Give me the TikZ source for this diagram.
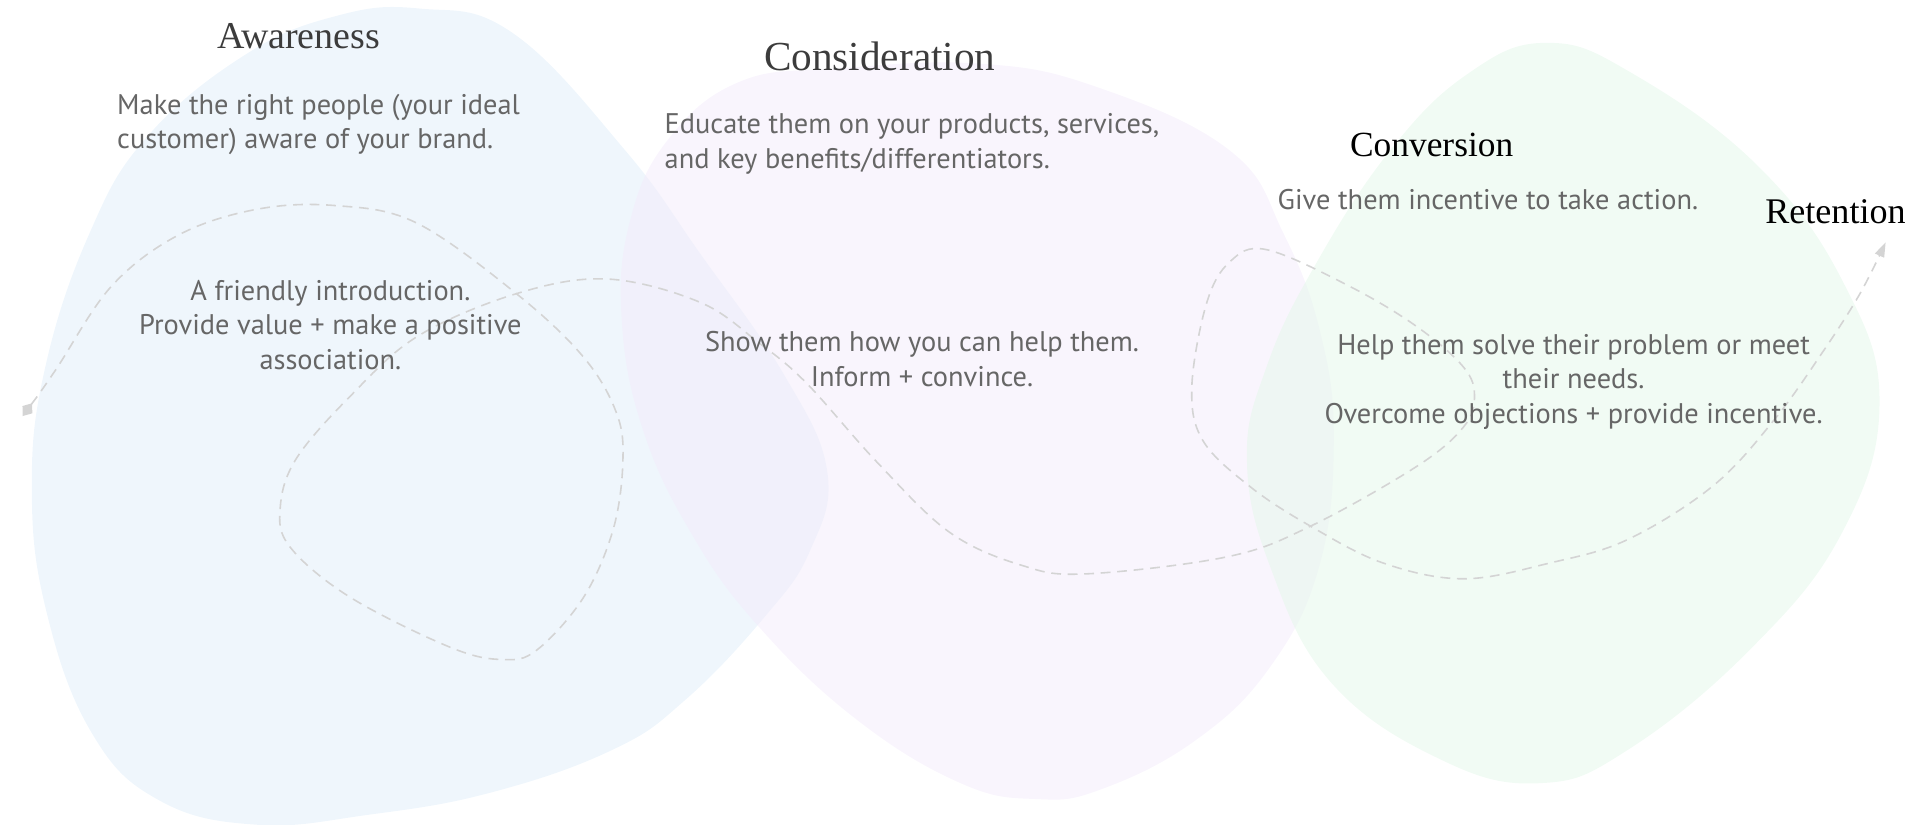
\documentclass[tikz,border=0pt]{standalone}
\usepackage{fontspec}
\usetikzlibrary{arrows.meta}
\newfontfamily\bodyfont{PT Sans}
\newfontfamily\titlefont{Liberation Serif}
\definecolor{blueblob}{RGB}{223,237,249}
\definecolor{purpleblob}{RGB}{243,235,251}
\definecolor{greenblob}{RGB}{227,247,233}
\definecolor{bodygray}{RGB}{102,102,102}
\definecolor{titlegray}{RGB}{60,60,60}
\definecolor{pathgray}{RGB}{212,212,212}
\tikzset{
  blob/.style={fill opacity=0.5, draw=none},
  ttl/.style={inner sep=0pt, anchor=base},
  desc/.style={inner sep=0pt, text=bodygray, font=\bodyfont\fontsize{23.2}{28.3}\selectfont},
  journey/.style={draw=pathgray, line width=1.3pt, dash pattern=on 8pt off 5.5pt,
    {Diamond[length=13pt,width=10pt,fill=pathgray]}-{Triangle[length=12pt,width=8pt,fill=pathgray]}}
}
\begin{document}
\begin{tikzpicture}[x=1pt,y=-1pt]
\useasboundingbox (0,0) rectangle (1565,674.2);
% blobs
\fill[blob, blueblob] plot[smooth cycle, tension=0.7] coordinates {
 (343,7) (419,27) (511,123) (572,207) (640,305) (676,385) (662,450) (625,504)
 (560,572) (500,613) (400,648) (300,666) (210,674) (130,654) (75,599)
 (38,500) (26,400) (37,300) (73,191) (120,112) (200,45) (275,13)};
\fill[blob, purpleblob] plot[smooth cycle, tension=0.7] coordinates {
 (684,56) (800,52) (896,71) (1005,123) (1049,191) (1079,272) (1090,360)
 (1078,463) (1038,545) (977,605) (900,645) (847,653) (785,640) (700,588)
 (620,512) (565,436) (525,350) (508,260) (515,180) (546,114) (604,67)};
\fill[blob, greenblob] plot[smooth cycle, tension=0.7] coordinates {
 (1264,35) (1334,60) (1437,136) (1507,232) (1536,330) (1505,436) (1430,531)
 (1330,613) (1259,640) (1178,621) (1088,558) (1038,463) (1019,375)
 (1035,300) (1074,218) (1136,123) (1200,60)};
% journey path
\coordinate (jstart) at (18.5,340);
\coordinate (jend) at (1541,198);
\draw[journey] plot[smooth, tension=0.6] coordinates {
 (jstart) (45,303) (91,234) (146,192) (210,171) (274,168) (340,182) (422,240)
 (477,292) (504,338) (509,378) (501,433) (477,488) (439,531) (411,539)
 (368,529) (286,488) (237,447) (229,415) (242,375) (286,324) (341,275)
 (422,240) (496,228) (572,247) (620,280) (659,313) (717,378) (776,435)
 (835,462) (887,469) (1003,455) (1071,430) (1158,381) (1196,349) (1205,324)
 (1196,300) (1158,267) (1103,234) (1035,204) (1005,214) (986,248) (974,316)
 (983,360) (1022,398) (1071,430) (1130,460) (1196,473) (1267,460) (1330,441)
 (1400,397) (1450,343) (1490,287) (1520,240) (jend)};
% titles
\node[ttl, text=titlegray, font=\titlefont\fontsize{31}{36}\selectfont] (awt) at (244,40) {Awareness};
\node[ttl, text=titlegray, font=\titlefont\fontsize{33.7}{38}\selectfont] (cot) at (719,58) {Consideration};
\node[ttl, text=black, font=\titlefont\fontsize{28.9}{33}\selectfont] (cvt) at (1170,127.5) {Conversion};
\node[ttl, text=black, font=\titlefont\fontsize{29.5}{33}\selectfont] (ret) at (1500,183) {Retention};
% descriptions (anchor = baseline of last line)
\node[desc, align=left, anchor=base west] (awd) at (95.6,121.5)
  {Make the right people (your ideal\\customer) aware of your brand.};
\node[desc, align=left, anchor=base west] (cod) at (543,137.8)
  {Educate them on your products, services,\\and key benefits/differentiators.};
\node[desc, align=left, anchor=base west] (cvd) at (1044,171)
  {Give them incentive to take action.};
% body texts
\node[desc, align=center, anchor=base] (awb) at (270,302)
  {A friendly introduction.\\Provide value + make a positive\\association.};
\node[desc, align=center, anchor=base] (cob) at (753.5,315.5)
  {Show them how you can help them.\\Inform + convince.};
\node[desc, align=center, anchor=base] (cvb) at (1286,346)
  {Help them solve their problem or meet\\their needs.\\Overcome objections + provide incentive.};
\end{tikzpicture}
\end{document}
